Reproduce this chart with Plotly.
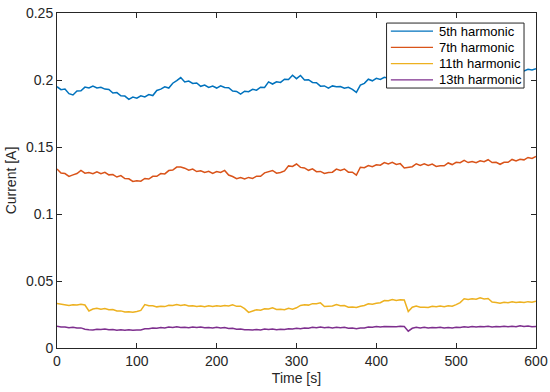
import plotly.graph_objects as go

time_s = list(range(0, 601, 5))

h5 = [.1950, .1928, .1932, .1898, .1888, .1918, .1920, .1947, .1940, .1955, .1940, .1946,
      .1932, .1930, .1903, .1906, .1882, .1880, .1856, .1872, .1864, .1882, .1874, .1891,
      .1884, .1922, .1932, .1949, .1940, .1976, .1995, .2018, .1985, .1992, .1974, .1978,
      .1953, .1962, .1944, .1955, .1940, .1957, .1944, .1942, .1918, .1915, .1894, .1916,
      .1913, .1930, .1924, .1946, .1944, .1986, .1970, .1987, .1982, .2006, .2004, .2036,
      .2010, .2034, .2000, .2002, .1982, .1980, .1954, .1956, .1940, .1956, .1950, .1951,
      .1938, .1946, .1930, .1908, .1962, .1975, .2006, .1994, .2012, .2004, .2020, .2014,
      .2026, .2018, .2030, .2022, .2034, .2026, .2036, .2028, .2040, .2032, .2042, .2034,
      .2046, .2038, .2048, .2042, .2054, .2046, .2058, .2050, .2060, .2052, .2062, .2056,
      .2066, .2058, .2068, .2060, .2070, .2062, .2072, .2066, .2076, .2068, .2080, .2074,
      .2084]

h7 = [.1336, .1306, .1302, .1281, .1292, .1302, .1325, .1305, .1310, .1301, .1315, .1301,
      .1311, .1292, .1294, .1276, .1287, .1264, .1263, .1243, .1248, .1245, .1265, .1261,
      .1281, .1281, .1302, .1299, .1324, .1328, .1350, .1351, .1342, .1327, .1335, .1317,
      .1323, .1310, .1319, .1303, .1317, .1310, .1325, .1291, .1280, .1264, .1272, .1261,
      .1273, .1266, .1282, .1281, .1307, .1314, .1325, .1305, .1310, .1322, .1359, .1355,
      .1373, .1348, .1344, .1326, .1337, .1316, .1318, .1302, .1310, .1312, .1335, .1325,
      .1336, .1312, .1312, .1290, .1349, .1345, .1362, .1353, .1367, .1364, .1384, .1373,
      .1385, .1370, .1376, .1344, .1349, .1353, .1375, .1363, .1374, .1362, .1372, .1355,
      .1360, .1360, .1381, .1369, .1386, .1383, .1400, .1384, .1392, .1383, .1397, .1390,
      .1405, .1384, .1386, .1371, .1386, .1386, .1407, .1396, .1409, .1404, .1422, .1415,
      .1430]

h11 = [.0332, .0327, .0327, .0318, .0323, .0321, .0327, .0321, .0276, .0291, .0296, .0290,
       .0295, .0285, .0287, .0276, .0277, .0269, .0270, .0267, .0273, .0281, .0324, .0316,
       .0316, .0307, .0312, .0309, .0319, .0317, .0325, .0317, .0322, .0314, .0316, .0310,
       .0313, .0308, .0315, .0309, .0316, .0312, .0317, .0313, .0322, .0311, .0312, .0294,
       .0266, .0276, .0286, .0282, .0292, .0291, .0300, .0288, .0290, .0286, .0296, .0290,
       .0300, .0318, .0323, .0320, .0331, .0330, .0337, .0310, .0314, .0313, .0324, .0315,
       .0317, .0305, .0306, .0302, .0312, .0317, .0330, .0327, .0334, .0338, .0354, .0353,
       .0362, .0355, .0360, .0359, .0272, .0304, .0313, .0305, .0305, .0302, .0312, .0307,
       .0313, .0308, .0315, .0312, .0324, .0339, .0367, .0362, .0367, .0364, .0374, .0366,
       .0370, .0343, .0340, .0334, .0341, .0338, .0345, .0339, .0344, .0339, .0346, .0342,
       .0350]

h13 = [.0162, .0156, .0157, .0151, .0154, .0149, .0150, .0140, .0137, .0135, .0140, .0138,
       .0142, .0136, .0138, .0133, .0136, .0133, .0137, .0132, .0135, .0135, .0144, .0144,
       .0150, .0148, .0153, .0150, .0156, .0153, .0158, .0153, .0155, .0151, .0157, .0153,
       .0157, .0151, .0153, .0149, .0154, .0150, .0153, .0146, .0148, .0140, .0142, .0136,
       .0137, .0134, .0138, .0135, .0141, .0138, .0142, .0137, .0140, .0138, .0144, .0142,
       .0147, .0144, .0149, .0147, .0154, .0152, .0157, .0152, .0155, .0150, .0154, .0151,
       .0155, .0148, .0149, .0144, .0149, .0149, .0157, .0155, .0160, .0156, .0161, .0159,
       .0162, .0159, .0163, .0161, .0126, .0147, .0155, .0150, .0154, .0149, .0153, .0151,
       .0155, .0150, .0153, .0150, .0154, .0153, .0159, .0155, .0160, .0156, .0161, .0158,
       .0162, .0157, .0160, .0158, .0162, .0158, .0162, .0159, .0166, .0160, .0164, .0159,
       .0160]

series_names = ["5th harmonic", "7th harmonic", "11th harmonic", "13th harmonic"]
series_vals = [h5, h7, h11, h13]
colors = ["#0072BD", "#D95319", "#EDB120", "#7E2F8E"]

x_ticks = [0, 100, 200, 300, 400, 500, 600]
y_ticks = [0, 0.05, 0.1, 0.15, 0.2, 0.25]
y_tick_text = ["0", "0.05", "0.1", "0.15", "0.2", "0.25"]

fig = go.Figure()
for name, vals, col in zip(series_names, series_vals, colors):
    fig.add_trace(go.Scatter(x=time_s, y=vals, mode="lines", name=name,
                             line=dict(color=col, width=1.5), showlegend=False))

axis_col = "#262626"
font_family = "Liberation Sans, Arial, sans-serif"

# manual MATLAB-style legend (paper coordinates)
leg_x0, leg_x1 = 0.688, 0.975
leg_y1, leg_y0 = 0.970, 0.776
fig.add_shape(type="rect", xref="paper", yref="paper", x0=leg_x0, x1=leg_x1,
              y0=leg_y0, y1=leg_y1, line=dict(color=axis_col, width=1),
              fillcolor="white", layer="above")
row_h = (leg_y1 - leg_y0) / 4
for i, (name, col) in enumerate(zip(series_names, colors)):
    yc = leg_y1 - row_h * (i + 0.5)
    fig.add_shape(type="line", xref="paper", yref="paper", x0=0.697, x1=0.785,
                  y0=yc, y1=yc, line=dict(color=col, width=1.2), layer="above")
    fig.add_annotation(xref="paper", yref="paper", x=0.794, y=yc, text=name,
                       showarrow=False, xanchor="left", yanchor="middle",
                       font=dict(family=font_family, size=13, color="black"))

fig.update_layout(
    width=550, height=392,
    margin=dict(l=57, r=14, t=13, b=44, autoexpand=False),
    paper_bgcolor="white", plot_bgcolor="white",
    font=dict(family=font_family, size=14, color=axis_col),
    showlegend=False,
)
fig.update_xaxes(range=[0, 600], tickvals=x_ticks, ticks="inside", ticklen=5,
                 tickcolor=axis_col, showline=True, linecolor=axis_col, linewidth=1,
                 mirror="ticks", showgrid=False, zeroline=False, automargin=False,
                 title=dict(text="Time [s]", font=dict(size=14), standoff=5),
                 tickfont=dict(size=14))
fig.update_yaxes(range=[0, 0.25], tickvals=y_ticks, ticktext=y_tick_text, ticks="inside",
                 ticklen=5, tickcolor=axis_col, showline=True, linecolor=axis_col,
                 linewidth=1, mirror="ticks", showgrid=False, zeroline=False,
                 automargin=False,
                 title=dict(text="Current [A]", font=dict(size=14), standoff=6),
                 tickfont=dict(size=14))

fig.write_html("out.html", config={"displayModeBar": False},
               post_script="document.body.style.margin='0';document.body.style.padding='0';")
